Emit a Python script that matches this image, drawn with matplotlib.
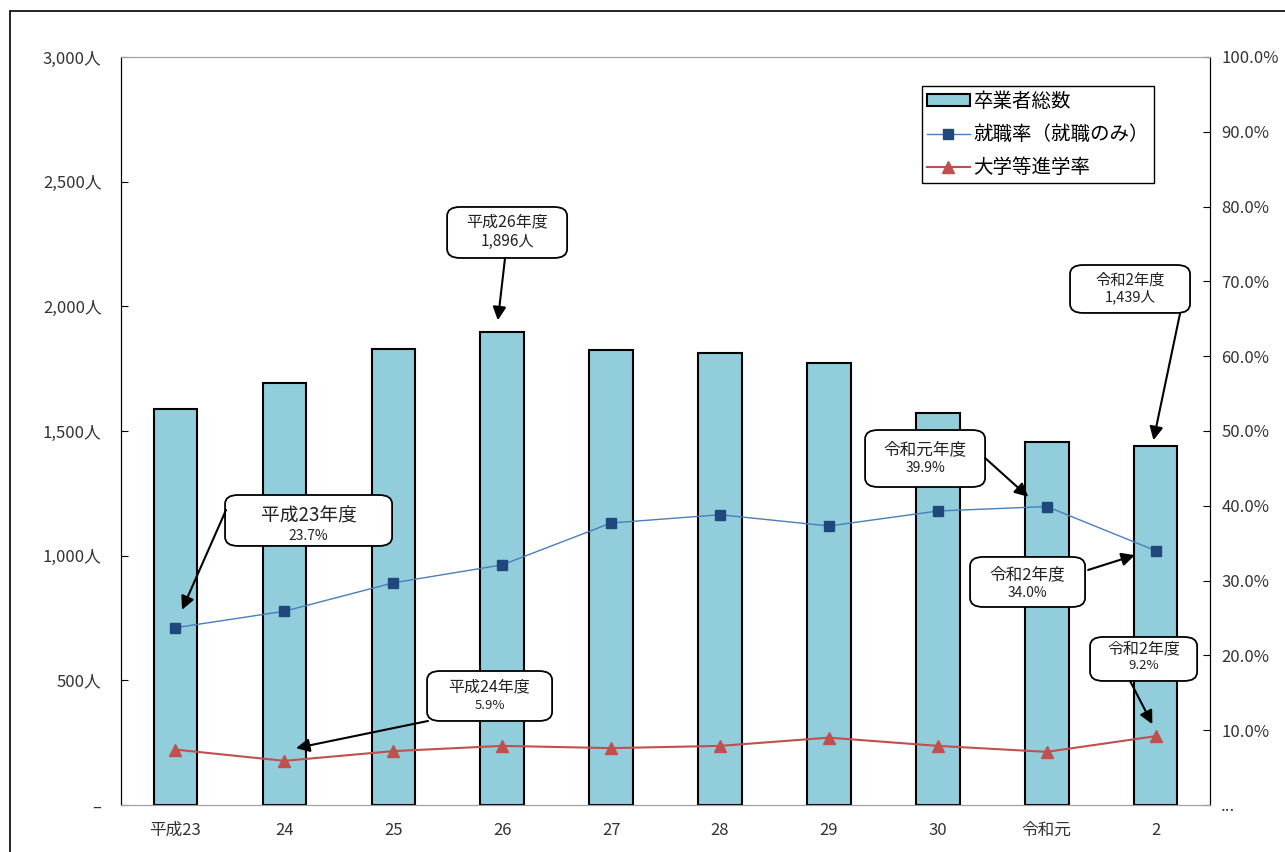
import matplotlib.pyplot as plt
import matplotlib.patches as patches
import numpy as np

plt.rcParams['font.family'] = ['Noto Sans CJK JP', 'DejaVu Sans']

# データ
years = ["平成23", "24", "25", "26", "27", "28", "29", "30", "令和元", "2"]
graduates = [1588, 1693, 1829, 1896, 1825, 1813, 1773, 1572, 1456, 1439]
job_rate = [23.7, 25.9, 29.7, 32.1, 37.7, 38.8, 37.3, 39.3, 39.9, 34.0]
univ_rate = [7.4, 5.9, 7.2, 7.9, 7.6, 7.9, 9.0, 7.9, 7.1, 9.2]

left_ticks = [0, 500, 1000, 1500, 2000, 2500, 3000]
left_labels = ["–", "500人", "1,000人", "1,500人", "2,000人", "2,500人", "3,000人"]
right_ticks = [0, 10, 20, 30, 40, 50, 60, 70, 80, 90, 100]
right_labels = ["..."] + [f"{v:.1f}%" for v in right_ticks[1:]]

BAR_COLOR = "#92CDDC"
BLUE_LINE = "#4A7EBB"
BLUE_MARK = "#1F497D"
RED = "#C0504D"
TXT = "#333333"

fig = plt.figure(figsize=(12.85, 8.52), dpi=100)
ax1 = fig.add_axes([0.0942, 0.0552, 0.8475, 0.8779])
ax2 = ax1.twinx()

x = np.arange(len(years))
bars = ax1.bar(x, graduates, width=0.4, color=BAR_COLOR, edgecolor="black",
               linewidth=1.5, label="卒業者総数", zorder=2)
l1, = ax2.plot(x, job_rate, color=BLUE_LINE, linewidth=1.0, marker="s",
               markersize=7.5, markerfacecolor=BLUE_MARK, markeredgecolor=BLUE_MARK,
               label="就職率（就職のみ）")
l2, = ax2.plot(x, univ_rate, color=RED, linewidth=1.5, marker="^",
               markersize=9, markerfacecolor=RED, markeredgecolor=RED,
               label="大学等進学率")

ax1.set_xlim(-0.5, len(years) - 0.5)
ax1.set_ylim(0, 3000)
ax2.set_ylim(0, 100)

ax1.set_yticks(left_ticks)
ax1.set_yticklabels(left_labels)
ax2.set_yticks(right_ticks)
ax2.set_yticklabels(right_labels)
ax1.set_xticks(x)
ax1.set_xticklabels(years)

ax1.tick_params(axis="y", direction="in", length=5, pad=14, labelsize=12, labelcolor=TXT)
ax2.tick_params(axis="y", direction="in", length=5, pad=8, labelsize=12, labelcolor=TXT)
ax1.tick_params(axis="x", length=0, pad=12, labelsize=12, labelcolor=TXT)

for a in (ax1, ax2):
    a.spines["top"].set_color("#A0A0A0")
    a.spines["bottom"].set_color("#A0A0A0")
    a.spines["left"].set_color("black")
    a.spines["right"].set_color("black")

# 凡例
leg = ax2.legend([bars, l1, l2], ["卒業者総数", "就職率（就職のみ）", "大学等進学率"],
                 loc="upper left", bbox_to_anchor=(0.7355, 0.9612), fontsize=14,
                 fancybox=False, edgecolor="black", framealpha=1, borderaxespad=0,
                 handlelength=2.2, handleheight=0.5, borderpad=0.25,
                 labelspacing=0.62, handletextpad=0.2)
leg.get_frame().set_linewidth(1.0)


def callout(ax, box, line1, line2, fs1, fs2, start, target):
    x0, x1, y0, y1, ty1, ty2 = box
    rect = patches.FancyBboxPatch((x0, y0), x1 - x0, y1 - y0,
                                  boxstyle="round,pad=0,rounding_size=0.012",
                                  transform=ax.transAxes, facecolor="white",
                                  edgecolor="black", linewidth=1.3, zorder=5,
                                  clip_on=False)
    ax.add_patch(rect)
    cx = (x0 + x1) / 2
    ax.text(cx, ty1, line1, transform=ax.transAxes, ha="center", va="center",
            fontsize=fs1, color="#222222", zorder=6)
    ax.text(cx, ty2, line2, transform=ax.transAxes, ha="center", va="center",
            fontsize=fs2, color="#222222", zorder=6)
    ax.annotate("", xy=target, xycoords="data", xytext=start, textcoords="axes fraction",
                arrowprops=dict(arrowstyle="-|>", color="black", lw=1.5,
                                mutation_scale=20, shrinkA=0, shrinkB=0),
                zorder=6)


callout(ax2, (0.0955, 0.2489, 0.3463, 0.4144, 0.386, 0.360), "平成23年度", "23.7%",
        13.5, 10, (0.0964, 0.3944), (x[0] + 0.06, job_rate[0] + 2.4))
callout(ax2, (0.2994, 0.4096, 0.7313, 0.7995, 0.780, 0.753), "平成26年度", "1,896人",
        11.5, 11, (0.3526, 0.7313), (x[3] - 0.04, graduates[3] / 30 + 1.6))
callout(ax2, (0.2810, 0.3958, 0.1123, 0.1791, 0.1574, 0.1324), "平成24年度", "5.9%",
        11.5, 9.5, (0.2819, 0.1123), (x[1] + 0.107, univ_rate[1] + 1.7))
callout(ax2, (0.6832, 0.7934, 0.4251, 0.5013, 0.4756, 0.4505), "令和元年度", "39.9%",
        12, 10, (0.7934, 0.4639), (x[8] - 0.17, job_rate[8] + 1.3))
callout(ax2, (0.7796, 0.8852, 0.2647, 0.3316, 0.3085, 0.2834), "令和2年度", "34.0%",
        12, 10, (0.8880, 0.3142), (x[9] - 0.19, job_rate[9] - 0.6))
callout(ax2, (0.8714, 0.9816, 0.6578, 0.7219, 0.7010, 0.6791), "令和2年度", "1,439人",
        11, 10.5, (0.9725, 0.6578), (x[9] - 0.02, graduates[9] / 30 + 0.8))
callout(ax2, (0.8898, 0.9881, 0.1658, 0.2246, 0.2080, 0.1858), "令和2年度", "9.2%",
        11.5, 9.5, (0.9265, 0.1658), (x[9] - 0.03, univ_rate[9] + 1.6))

# 外枠
fig.add_artist(patches.Rectangle((10 / 1285, -0.05), 1.1, 0.05 + (852 - 11) / 852,
                                 transform=fig.transFigure, fill=False,
                                 edgecolor="black", linewidth=1.2, clip_on=False))

fig.savefig("out.png", dpi=100)
